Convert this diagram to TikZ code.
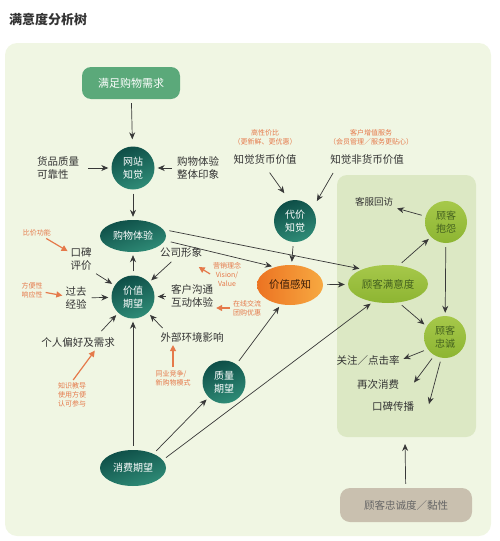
\documentclass[tikz,border=0pt]{standalone}
\usepackage{fontspec}
\setmainfont{Noto Sans CJK SC}
\usepackage{tikz}
\usetikzlibrary{arrows.meta}
\usetikzlibrary{shapes.geometric}

\definecolor{bgGreen}{HTML}{F0F6E3}
\definecolor{innerGreen}{HTML}{DCE8C4}
\definecolor{boxGreen}{HTML}{5BA97A}
\definecolor{tealDark}{HTML}{0E4E47}
\definecolor{tealLight}{HTML}{2F8C77}
\definecolor{lime}{HTML}{A6C84A}
\definecolor{limeDark}{HTML}{8DB532}
\definecolor{limeText}{HTML}{44611F}
\definecolor{orgDark}{HTML}{EC7322}
\definecolor{orgLight}{HTML}{F7A941}
\definecolor{tan}{HTML}{C9C0AF}
\definecolor{txtGray}{HTML}{333333}
\definecolor{arrGray}{HTML}{383838}
\definecolor{noteOrange}{HTML}{E5794A}

\begin{document}
\begin{tikzpicture}[x=1pt, y=-1pt, inner sep=1pt]
            \useasboundingbox (0,0) rectangle (500,541);

            \tikzstyle{myLbl}=[font=\fontsize{10.5}{13}\selectfont, text=txtGray, align=left];
            \tikzstyle{myNote}=[font=\fontsize{7}{9}\selectfont, text=noteOrange, align=left];
            \tikzstyle{myTeal}=[circle, minimum size=43pt, inner sep=0pt, top color=tealDark, bottom color=tealLight, shading angle=20, text=white, align=center, font=\fontsize{10}{13}\selectfont];
            \tikzstyle{myTealE}=[myTeal, ellipse, minimum width=66pt, minimum height=32pt];
            \tikzstyle{myLime}=[circle, minimum size=42pt, inner sep=0pt, top color=lime, bottom color=limeDark, text=limeText, align=center, font=\fontsize{10}{13}\selectfont];
            \tikzstyle{myArr}=[-{Stealth[length=7pt, width=6pt]}, line width=0.7pt, draw=arrGray, shorten <=4pt, shorten >=3pt];
            \tikzstyle{myOArr}=[-{Triangle[length=6pt, width=6pt]}, line width=1.2pt, draw=noteOrange, shorten <=2pt, shorten >=2pt];

            % title and panels
            \node[anchor=west, font=\fontsize{13}{15}\selectfont\bfseries, text=txtGray] (title) at (8,19) {满意度分析树};
            \fill[bgGreen, rounded corners=12pt] (5,43) rectangle (491,536);
            \fill[innerGreen, rounded corners=10pt] (337,175) rectangle (476,437);

            % left column
            \node[rectangle, rounded corners=9pt, minimum width=98pt, minimum height=32pt, fill=boxGreen, text=white, font=\fontsize{11}{13}\selectfont] (need) at (131,83) {满足购物需求};
            \node[myTeal] (site) at (133,168) {网站\\知觉};
            \node[myLbl] (quality) at (58,168) {货品质量\\可靠性};
            \node[myLbl] (overall) at (198,168) {购物体验\\整体印象};
            \node[myTealE] (shop) at (133,236) {购物体验};
            \node[myTeal] (expect) at (133,297) {价值\\期望};
            \node[myLbl] (wom) at (81,259) {口碑\\评价};
            \node[myLbl] (past) at (76,298) {过去\\经验};
            \node[myLbl] (pref) at (78,343) {个人偏好及需求};
            \node[myLbl] (image) at (181,253) {公司形象};
            \node[myLbl] (comm) at (192,296) {客户沟通\\互动体验};
            \node[myLbl] (env) at (192,337) {外部环境影响};
            \node[myTeal] (qexp) at (224,382) {质量\\期望};
            \node[myTealE, minimum height=36pt] (cexp) at (133,468) {消费期望};

            % notes
            \node[myNote] (n1) at (37,233) {比价功能};
            \node[myNote] (n2) at (32,290) {方便性\\响应性};
            \node[myNote] (n3) at (72,395) {知识教导\\使用方便\\认可参与};
            \node[myNote] (n4) at (173,378) {同业竞争/\\新购物模式};
            \node[myNote, align=center] (n5) at (227,275) {营销理念\\Vision/\\Value};
            \node[myNote] (n6) at (247,308) {在线交流\\团购优惠};
            \node[myNote, align=center] (n7) at (265,137) {高性价比\\（更新鲜、更优惠）};
            \node[myNote, align=center] (n8) at (371,137) {客户增值服务\\（会员管理／服务更贴心）};
            \coordinate (imgNote) at (197,266);

            % middle and right
            \node[myLbl] (money) at (265,160) {知觉货币价值};
            \node[myLbl] (nonmoney) at (367,160) {知觉非货币价值};
            \node[myTeal, minimum size=42pt] (cost) at (295,221) {代价\\知觉};
            \node[ellipse, minimum width=66pt, minimum height=40pt, left color=orgDark, right color=orgLight, text=black!75!orgDark, font=\fontsize{10.5}{13}\selectfont] (value) at (290,285) {价值感知};
            \node[ellipse, minimum width=80pt, minimum height=38pt, top color=lime, bottom color=limeDark, text=limeText, font=\fontsize{10.5}{13}\selectfont] (satis) at (388,284) {顾客满意度};
            \node[myLime] (complain) at (446,222) {顾客\\抱怨};
            \node[myLbl, font=\fontsize{9.5}{12}\selectfont] (revisit) at (374,202) {客服回访};
            \node[myLime] (loyal) at (445,337) {顾客\\忠诚};
            \node[myLbl] (click) at (368,360) {关注／点击率};
            \node[myLbl] (again) at (378,385) {再次消费};
            \node[myLbl] (spread) at (393,407) {口碑传播};
            \node[rectangle, rounded corners=10pt, minimum width=132pt, minimum height=34pt, fill=tan, text=black!60, font=\fontsize{10.5}{13}\selectfont] (stick) at (406,505) {顾客忠诚度／黏性};
            \coordinate (boxbot) at (405,441);

            % arrows
            \draw[myArr, shorten >=7pt] (need) -- (site);
            \draw[myArr, shorten <=8pt] (quality) -- (site);
            \draw[myArr] (overall) -- (site);
            \draw[myArr] (site) -- (shop);
            \draw[myArr] (expect) -- (shop);
            \draw[myArr] (wom.south east) -- (expect);
            \draw[myArr] (past) -- (expect);
            \draw[myArr, shorten <=8pt] ([xshift=18pt]pref.north) -- (expect);
            \draw[myArr] (image) -- (expect);
            \draw[myArr] (comm) -- (expect);
            \draw[myArr] ([xshift=6pt]env.north west) -- (expect);
            \draw[myArr] (cexp) -- (expect);
            \draw[myArr] (cexp.35) -- (qexp.225);
            \draw[myArr] (cexp.15) -- (satis.230);
            \draw[myArr] (qexp.55) -- (value.245);
            \draw[myArr, shorten <=6pt] (shop.12) -- (satis.150);
            \draw[myArr, shorten <=6pt] (shop.-8) -- (value.130);
            \draw[myArr, shorten <=8pt, shorten >=9pt] (money.south) -- (cost.105);
            \draw[myArr, shorten <=8pt, shorten >=9pt] ([xshift=8pt]nonmoney.south west) -- (cost.35);
            \draw[myArr] (cost) -- (value);
            \draw[myArr] (value) -- (satis);
            \draw[myArr] (satis.60) -- (complain.225);
            \draw[myArr] (satis.-60) -- (loyal.150);
            \draw[myArr] (complain) -- (loyal);
            \draw[myArr] (complain) -- (revisit);
            \draw[myArr] (loyal.215) -- (click.east);
            \draw[myArr] (loyal.240) -- ([xshift=12pt]again.east);
            \draw[myArr] (loyal.260) -- ([xshift=13pt]spread.east);
            \draw[myArr] (stick) -- (boxbot);

            % note arrows
            \draw[myOArr] (n1) -- (wom);
            \draw[myOArr] (n2) -- (past);
            \draw[myOArr] (n3.north) -- ([xshift=18pt]pref.south);
            \draw[myOArr] (n4.north) -- (n4.north |- env.south);
            \draw[myOArr] (n5.west) -- (imgNote);
            \draw[myOArr] (n6.west) -- (n6.west -| comm.east);
         \end{tikzpicture}
\end{document}
